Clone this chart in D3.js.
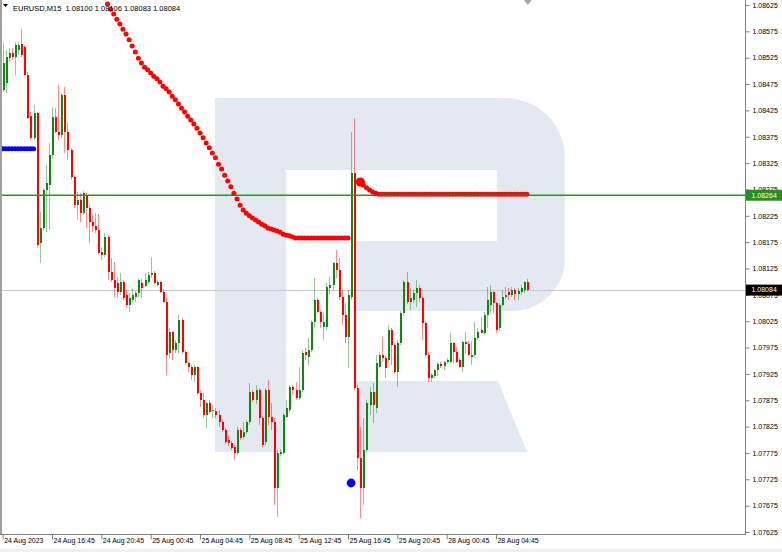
<!DOCTYPE html>
<html><head><meta charset="utf-8">
<script src="https://cdn.jsdelivr.net/npm/d3@7"></script>
<style>html,body{margin:0;padding:0;background:#fff;overflow:hidden}</style>
</head><body>
<svg id="c" width="782" height="552"></svg>
<script>
// ---------------- DATA ----------------
const symbolTitle = "EURUSD,M15";
const lastQuote = ["1.08100", "1.08106", "1.08083", "1.08084"];

const timeTickIndex = [0, 16, 32, 48, 64, 80, 96, 112, 128, 144, 160];
const timeLabels = ["24 Aug 2023", "24 Aug 16:45", "24 Aug 20:45", "25 Aug 00:45", "25 Aug 04:45",
  "25 Aug 08:45", "25 Aug 12:45", "25 Aug 16:45", "25 Aug 20:45", "28 Aug 00:45", "28 Aug 04:45"];

const priceTicks = [1.08625, 1.08575, 1.08525, 1.08475, 1.08425, 1.08375, 1.08325, 1.08275, 1.08225,
  1.08175, 1.08125, 1.08075, 1.08025, 1.07975, 1.07925, 1.07875, 1.07825, 1.07775, 1.07725, 1.07675, 1.07625];

const opens = [
1.08464,1.08477,1.08524,1.08534,1.08526,1.08540,1.08551,1.08545,1.08492,1.08414,
1.08373,1.08420,1.08173,1.08202,1.08274,1.08283,1.08340,1.08412,1.08384,1.08378,
1.08454,1.08384,1.08350,1.08299,1.08245,1.08255,1.08230,1.08264,1.08240,1.08213,
1.08206,1.08198,1.08156,1.08150,1.08185,1.08118,1.08103,1.08097,1.08080,1.08099,
1.08075,1.08056,1.08065,1.08071,1.08078,1.08097,1.08092,1.08099,1.08113,1.08116,
1.08094,1.08099,1.08080,1.08061,1.07964,1.08004,1.07970,1.07983,1.08027,1.07966,
1.07945,1.07938,1.07923,1.07938,1.07889,1.07875,1.07847,1.07870,1.07854,1.07854,
1.07847,1.07834,1.07818,1.07799,1.07794,1.07786,1.07775,1.07818,1.07805,1.07815,
1.07834,1.07890,1.07875,1.07894,1.07841,1.07796,1.07894,1.07843,1.07834,1.07708,
1.07773,1.07775,1.07843,1.07856,1.07900,1.07894,1.07879,1.07894,1.07966,1.07957,
1.07970,1.08023,1.08065,1.08042,1.08014,1.08014,1.08088,1.08094,1.08135,1.08122,
1.08071,1.08037,1.07995,1.08071,1.08306,1.07898,1.07765,1.07708,1.07780,1.07866,
1.07890,1.07860,1.07938,1.07961,1.07955,1.07951,1.08008,1.07980,1.07928,1.07983,
1.08040,1.08099,1.08061,1.08065,1.08078,1.08088,1.08069,1.08021,1.07961,1.07917,
1.07921,1.07932,1.07944,1.07940,1.07947,1.07947,1.07983,1.07966,1.07951,1.07938,
1.07985,1.07982,1.07957,1.07961,1.07993,1.08008,1.08002,1.08037,1.08056,1.08080,
1.08059,1.08012,1.08056,1.08071,1.08080,1.08075,1.08084,1.08076,1.08080,1.08084,
1.08100];

const highs = [
1.08553,1.08540,1.08543,1.08543,1.08555,1.08555,1.08579,1.08549,1.08498,1.08422,
1.08435,1.08422,1.08232,1.08278,1.08321,1.08363,1.08431,1.08429,1.08473,1.08458,
1.08469,1.08401,1.08354,1.08302,1.08270,1.08268,1.08272,1.08268,1.08245,1.08226,
1.08230,1.08228,1.08166,1.08192,1.08188,1.08145,1.08137,1.08109,1.08116,1.08103,
1.08084,1.08078,1.08088,1.08082,1.08107,1.08105,1.08116,1.08118,1.08147,1.08120,
1.08103,1.08101,1.08086,1.08069,1.08012,1.08006,1.07989,1.08037,1.08031,1.07970,
1.07947,1.07942,1.07942,1.07940,1.07894,1.07889,1.07871,1.07875,1.07866,1.07860,
1.07856,1.07837,1.07822,1.07807,1.07797,1.07790,1.07824,1.07822,1.07834,1.07837,
1.07908,1.07894,1.07904,1.07898,1.07845,1.07898,1.07913,1.07870,1.07841,1.07780,
1.07782,1.07851,1.07875,1.07904,1.07904,1.07909,1.07938,1.07970,1.07974,1.07993,
1.08027,1.08107,1.08069,1.08046,1.08040,1.08097,1.08109,1.08137,1.08160,1.08145,
1.08084,1.08059,1.08084,1.08384,1.08411,1.07904,1.07824,1.07841,1.07875,1.07900,
1.07908,1.07961,1.07966,1.07995,1.07959,1.08018,1.08012,1.07983,1.07989,1.08044,
1.08103,1.08118,1.08088,1.08084,1.08103,1.08094,1.08071,1.08025,1.07966,1.07926,
1.07934,1.07947,1.07947,1.07949,1.07955,1.08002,1.07985,1.07976,1.07955,1.07987,
1.08004,1.07987,1.07987,1.08023,1.08012,1.08033,1.08042,1.08090,1.08094,1.08082,
1.08061,1.08059,1.08084,1.08090,1.08088,1.08090,1.08088,1.08088,1.08094,1.08101,
1.08106];

const lows = [
1.08460,1.08458,1.08517,1.08521,1.08492,1.08530,1.08526,1.08490,1.08409,1.08369,
1.08369,1.08166,1.08135,1.08198,1.08194,1.08198,1.08335,1.08382,1.08369,1.08373,
1.08344,1.08331,1.08293,1.08240,1.08217,1.08213,1.08226,1.08202,1.08173,1.08194,
1.08192,1.08152,1.08141,1.08147,1.08103,1.08099,1.08071,1.08069,1.08075,1.08065,
1.08050,1.08042,1.08059,1.08061,1.08071,1.08069,1.08090,1.08095,1.08107,1.08095,
1.08090,1.08078,1.08059,1.07923,1.07955,1.07951,1.07964,1.07964,1.07963,1.07942,
1.07928,1.07913,1.07909,1.07885,1.07862,1.07841,1.07822,1.07849,1.07841,1.07841,
1.07824,1.07815,1.07792,1.07788,1.07780,1.07761,1.07771,1.07799,1.07801,1.07811,
1.07828,1.07871,1.07868,1.07828,1.07786,1.07790,1.07828,1.07818,1.07676,1.07653,
1.07769,1.07771,1.07841,1.07853,1.07885,1.07875,1.07875,1.07890,1.07951,1.07942,
1.07966,1.08012,1.08040,1.08012,1.07989,1.08008,1.08075,1.08084,1.08107,1.08065,
1.08018,1.07983,1.07936,1.08065,1.07894,1.07742,1.07651,1.07676,1.07777,1.07847,
1.07832,1.07851,1.07936,1.07947,1.07917,1.07947,1.07942,1.07925,1.07900,1.07980,
1.08037,1.08057,1.08046,1.08059,1.08052,1.08061,1.07989,1.07957,1.07909,1.07909,
1.07917,1.07921,1.07936,1.07932,1.07944,1.07945,1.07945,1.07945,1.07936,1.07928,
1.07964,1.07959,1.07942,1.07957,1.07989,1.08002,1.07999,1.08012,1.08040,1.08040,
1.08002,1.08006,1.08052,1.08067,1.08065,1.08071,1.08065,1.08065,1.08075,1.08078,
1.08083];

const closes = [
1.08515,1.08526,1.08534,1.08526,1.08549,1.08549,1.08530,1.08492,1.08411,1.08373,
1.08420,1.08169,1.08202,1.08274,1.08287,1.08340,1.08412,1.08384,1.08378,1.08454,
1.08384,1.08350,1.08299,1.08245,1.08255,1.08230,1.08268,1.08240,1.08213,1.08206,
1.08198,1.08154,1.08150,1.08185,1.08118,1.08103,1.08088,1.08080,1.08099,1.08069,
1.08056,1.08069,1.08075,1.08078,1.08103,1.08088,1.08103,1.08113,1.08116,1.08097,
1.08099,1.08080,1.08061,1.07961,1.08004,1.07970,1.07983,1.08027,1.07966,1.07945,
1.07938,1.07923,1.07938,1.07889,1.07875,1.07847,1.07870,1.07853,1.07856,1.07847,
1.07834,1.07818,1.07796,1.07794,1.07784,1.07775,1.07818,1.07803,1.07815,1.07834,
1.07890,1.07875,1.07894,1.07841,1.07790,1.07894,1.07843,1.07834,1.07708,1.07775,
1.07777,1.07847,1.07860,1.07900,1.07894,1.07879,1.07894,1.07964,1.07961,1.07970,
1.08023,1.08065,1.08042,1.08023,1.08023,1.08090,1.08094,1.08135,1.08122,1.08071,
1.08037,1.07995,1.08075,1.08306,1.07898,1.07765,1.07708,1.07780,1.07870,1.07890,
1.07866,1.07945,1.07961,1.07955,1.07936,1.08008,1.07980,1.07928,1.07983,1.08040,
1.08099,1.08061,1.08069,1.08078,1.08088,1.08069,1.08021,1.07961,1.07917,1.07923,
1.07932,1.07944,1.07940,1.07947,1.07951,1.07983,1.07966,1.07947,1.07938,1.07985,
1.07982,1.07961,1.07961,1.07993,1.08004,1.08002,1.08037,1.08065,1.08080,1.08059,
1.08008,1.08056,1.08071,1.08075,1.08075,1.08084,1.08076,1.08082,1.08088,1.08100,
1.08084];

// red dotted indicator, first segment starts at bar 34
const redLine1Start = 34;
const redLine1 = [
1.08627,1.08617,1.08608,1.08598,1.08589,1.08579,1.08570,1.08559,1.08547,1.08536,
1.08524,1.08515,1.08507,1.08502,1.08496,1.08490,1.08485,1.08479,1.08471,1.08466,
1.08460,1.08452,1.08445,1.08437,1.08429,1.08422,1.08414,1.08407,1.08399,1.08391,
1.08382,1.08373,1.08363,1.08354,1.08344,1.08335,1.08323,1.08314,1.08302,1.08291,
1.08280,1.08268,1.08257,1.08245,1.08236,1.08230,1.08225,1.08221,1.08217,1.08213,
1.08209,1.08206,1.08202,1.08200,1.08198,1.08196,1.08194,1.08190,1.08188,1.08187,
1.08185,1.08183,1.08183,1.08183,1.08183,1.08183,1.08183,1.08183,1.08183,1.08183,
1.08183,1.08183,1.08183,1.08183,1.08183,1.08183,1.08183,1.08183,1.08183];
// second segment starts at bar 116
const redLine2Start = 116;
const redLine2 = [
1.08289,1.08283,1.08278,1.08274,1.08270,1.08268,1.08266,1.08266,1.08266,1.08266,
1.08266,1.08266,1.08266,1.08266,1.08266,1.08266,1.08266,1.08266,1.08266,1.08266,
1.08266,1.08266,1.08266,1.08266,1.08266,1.08266,1.08266,1.08266,1.08266,1.08266,
1.08266,1.08266,1.08266,1.08266,1.08266,1.08266,1.08266,1.08266,1.08266,1.08266,
1.08266,1.08266,1.08266,1.08266,1.08266,1.08266,1.08266,1.08266,1.08266,1.08266,
1.08266,1.08266,1.08266,1.08266,1.08266];
// blue dotted indicator
const blueLineStart = 0;
const blueLine = [1.08352,1.08352,1.08352,1.08352,1.08352,1.08352,1.08352,1.08352,1.08352,1.08352,1.08352];
const blueDotIndex = 113;
const blueDotValue = 1.07718;

const levelPrice = 1.08264;   // green horizontal level
const bidPrice = 1.08084;     // last price line

// ---------------- DRAW ----------------
const W = 782, H = 552, plotLeft = 2, plotRight = 745.5, plotBottom = 534.5;
const svg = d3.select('#c');
const FONT = "'Liberation Sans', Arial, sans-serif";

const x = d3.scaleLinear().domain([0, opens.length - 1]).range([2.7, 526.8]);
const y = d3.scaleLinear().domain([1.07625, 1.08625]).range([532, 5]);

svg.append('rect').attr('width', W).attr('height', H).attr('fill', '#ffffff');
svg.append('rect').attr('x', 0).attr('y', 549).attr('width', W).attr('height', 3).attr('fill', '#f0f0f0');

svg.append('defs').append('clipPath').attr('id', 'plot')
  .append('rect').attr('x', plotLeft).attr('y', 0).attr('width', plotRight - plotLeft).attr('height', plotBottom);

const g = svg.append('g').attr('clip-path', 'url(#plot)');

// watermark logo (decorative)
const wm = '#e4e9f1';
g.append('path').attr('fill', wm)
  .attr('d', 'M215,98 H505 A60,60 0 0 1 565,158 V258 A53,53 0 0 1 512,311 H356 V241 H497 V170 H286 V452 H215 Z');
g.append('path').attr('fill', wm).attr('d', 'M356,381 H498 L527,452 H356 Z');

// bid line (behind candles)
g.append('line').attr('x1', plotLeft).attr('x2', plotRight)
  .attr('y1', Math.round(y(bidPrice)) + 0.5).attr('y2', Math.round(y(bidPrice)) + 0.5)
  .attr('stroke', '#c8c8c8').attr('stroke-width', 1);

// candles
const bars = opens.map((o, i) => ({ i, o, h: highs[i], l: lows[i], c: closes[i] }));
const BULL = '#118811', BEAR = '#ff0000';
const cg = g.append('g').attr('shape-rendering', 'crispEdges');
cg.selectAll('line.wick').data(bars).join('line')
  .attr('class', 'wick')
  .attr('x1', d => Math.round(x(d.i)) + 0.5).attr('x2', d => Math.round(x(d.i)) + 0.5)
  .attr('y1', d => y(d.h)).attr('y2', d => y(d.l))
  .attr('stroke', d => d.c >= d.o ? BULL : BEAR).attr('stroke-opacity', 0.45).attr('stroke-width', 1);
cg.selectAll('rect.body').data(bars).join('rect')
  .attr('class', 'body')
  .attr('x', d => Math.round(x(d.i)) - 0.5).attr('width', 2)
  .attr('y', d => Math.min(y(d.o), y(d.c)))
  .attr('height', d => Math.max(1, Math.abs(y(d.o) - y(d.c))))
  .attr('fill', d => d.c >= d.o ? BULL : BEAR);

// green level line
const ly = y(levelPrice);
g.append('line').attr('x1', plotLeft).attr('x2', plotRight).attr('y1', ly).attr('y2', ly)
  .attr('stroke', '#2f8f2f').attr('stroke-width', 1.6);

// red dotted indicator
const red1 = redLine1.map((v, k) => ({ i: redLine1Start + k, v }));
const red2 = redLine2.map((v, k) => ({ i: redLine2Start + k, v }));
g.selectAll('circle.r1').data(red1).join('circle').attr('class', 'r1')
  .attr('cx', d => x(d.i)).attr('cy', d => y(d.v)).attr('r', 2.5).attr('fill', '#ff0000');
g.selectAll('circle.r2').data(red2).join('circle').attr('class', 'r2')
  .attr('cx', d => x(d.i)).attr('cy', d => y(d.v)).attr('r', 2.5).attr('fill', '#ff0000');
g.append('circle').attr('cx', x(red2[0].i)).attr('cy', y(red2[0].v)).attr('r', 4.6).attr('fill', '#ff0000');
// green level shows through the flat part (brownish blend)
g.append('line').attr('x1', x(red2[6].i)).attr('x2', x(red2[red2.length - 1].i) + 2)
  .attr('y1', ly - 0.3).attr('y2', ly - 0.3).attr('stroke', '#2f7f2f').attr('stroke-width', 2).attr('stroke-opacity', 0.6);

// blue indicator
const blue = blueLine.map((v, k) => ({ i: blueLineStart + k, v }));
g.selectAll('circle.b').data(blue).join('circle').attr('class', 'b')
  .attr('cx', d => x(d.i)).attr('cy', d => y(d.v)).attr('r', 2.5).attr('fill', '#0000ff');
g.append('circle').attr('cx', x(blueDotIndex)).attr('cy', y(blueDotValue)).attr('r', 4.4).attr('fill', '#0000ff');

// chart shift marker
const sx = x(opens.length - 1) + 1;
svg.append('path').attr('d', `M${sx - 4},0 L${sx + 4},0 L${sx},5 Z`).attr('fill', '#a8a8a8');

// frame
svg.append('line').attr('x1', 1).attr('x2', 1).attr('y1', 0).attr('y2', plotBottom + 0.5)
  .attr('stroke', '#a0a0a0').attr('stroke-width', 2);
svg.append('line').attr('x1', 0).attr('x2', plotRight).attr('y1', plotBottom).attr('y2', plotBottom)
  .attr('stroke', '#808080').attr('stroke-width', 1);
svg.append('line').attr('x1', plotRight).attr('x2', plotRight).attr('y1', 0).attr('y2', plotBottom + 0.5)
  .attr('stroke', '#808080').attr('stroke-width', 1);

// right price axis
const ya = svg.append('g').attr('transform', `translate(${plotRight},0)`)
  .call(d3.axisRight(y).tickValues(priceTicks).tickFormat(d3.format('.5f')).tickSize(4).tickSizeOuter(0).tickPadding(3));
ya.select('.domain').remove();
ya.selectAll('line').attr('stroke', '#808080');
ya.selectAll('text').attr('font-family', FONT).attr('font-size', 7).attr('fill', '#000');

// bottom time axis
const xa = svg.append('g').attr('transform', `translate(0,${plotBottom})`)
  .call(d3.axisBottom(x).tickValues(timeTickIndex).tickFormat((d, k) => timeLabels[k]).tickSize(5).tickSizeOuter(0));
xa.select('.domain').remove();
xa.selectAll('line').attr('stroke', '#808080');
xa.selectAll('text').attr('font-family', FONT).attr('font-size', 7).attr('fill', '#000')
  .attr('text-anchor', 'start').attr('x', 1).attr('y', 4).attr('dy', '0.71em');

// price labels on the axis
function priceTag(p, fill) {
  const yy = y(p);
  svg.append('rect').attr('x', plotRight + 0.5).attr('y', yy - 5.5).attr('width', 36).attr('height', 11).attr('fill', fill);
  svg.append('text').attr('x', plotRight + 6).attr('y', yy).attr('dy', '0.34em')
    .attr('font-family', FONT).attr('font-size', 7).attr('fill', '#fff').text(d3.format('.5f')(p));
}
priceTag(levelPrice, '#239023');
priceTag(bidPrice, '#000000');

// header
svg.append('path').attr('d', 'M3,4 L8,4 L5.5,7 Z').attr('fill', '#000');
svg.append('text').attr('x', 13).attr('y', 10.5).attr('font-family', FONT).attr('font-size', 7.5).attr('fill', '#000')
  .attr('xml:space', 'preserve')
  .text(symbolTitle + '  ' + lastQuote.join(' '));
</script>
</body></html>
